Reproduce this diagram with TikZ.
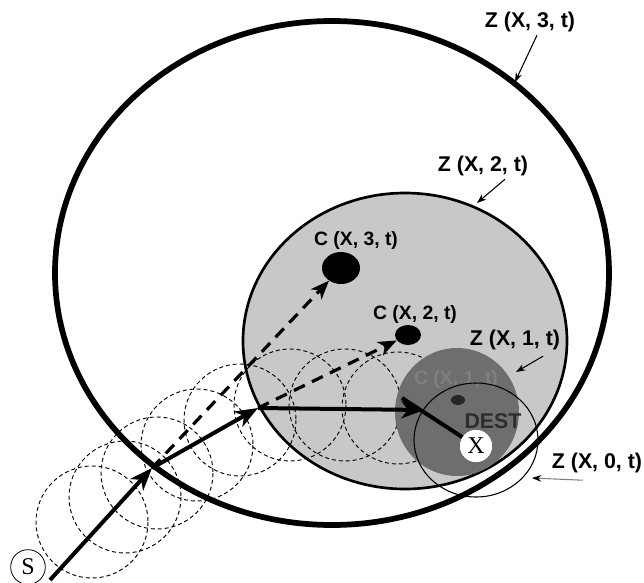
\documentclass[tikz,border=0pt]{standalone}
\usepackage{fontspec}
\setmainfont{Liberation Sans}
\newfontfamily\serifx{Liberation Serif}
\usetikzlibrary{arrows.meta,calc,shapes.geometric}
\definecolor{zgrey}{RGB}{200,200,200}
\definecolor{zdark}{RGB}{110,110,110}
\definecolor{faint}{RGB}{128,128,128}
\definecolor{desttxt}{RGB}{45,45,45}
\begin{document}
\begin{tikzpicture}[x=0.75pt,y=-0.75pt,
  lbl/.style={font=\fontsize{16}{19}\selectfont\bfseries, inner sep=0pt},
  clbl/.style={font=\fontsize{14.5}{17}\selectfont\bfseries, inner sep=0pt},
  pointer/.style={line width=0.8pt, -{Stealth[length=7pt,width=5pt]}},
  solidarrow/.style={line width=3pt, -{Stealth[length=17pt,width=13pt,inset=5pt]}},
  dasharrow/.style={line width=2.4pt, dash pattern=on 9pt off 6pt, -{Stealth[length=14pt,width=11pt,inset=4pt]}},
  trail/.style={dash pattern=on 3pt off 2.2pt, line width=0.7pt},
  dot/.style={ellipse, fill=black, inner sep=0pt},
]
\useasboundingbox (0,0) rectangle (644,583);
\fill[white] (0,0) rectangle (644,583);

% Z(X,2,t) grey zone
\draw[fill=zgrey, line width=2pt] (405,341) ellipse [x radius=162, y radius=148];

% trail of dashed circles
\foreach \cx/\cy in {92/522, 125/497, 157/473, 197/445, 240/420, 290/405, 345/405, 398/408}
  \draw[trail] (\cx,\cy) circle [radius=56];

% Z(X,1,t) dark zone
\fill[zdark] (457,412) ellipse [x radius=62, y radius=64];
\node[clbl, text=faint] (c1lbl) at (456,379) {C (X, 1, t)};
\node[dot, minimum width=10.5pt, minimum height=7.5pt, fill=black!85] (c1) at (458,400) {};
\node[lbl, text=desttxt] (dest) at (493,421) {DEST};

% Z(X,0,t) thin circle
\draw[line width=0.8pt] (476,440) ellipse [x radius=62, y radius=57];

% Z(X,3,t) big zone
\draw[line width=4.3pt] (332,273) ellipse [x radius=277, y radius=252];

% nodes S and X
\node[circle, draw, line width=0.6pt, fill=white, minimum size=26pt, inner sep=0pt] (S) at (28,567) {\serifx\fontsize{18}{18}\selectfont S};
\coordinate (s0) at (50,580);
\coordinate (p1) at (152,468);
\coordinate (p2) at (258,408);
\coordinate (p3) at (424,410);
\coordinate (q) at (402,398);

% destination dots
\node[dot, minimum width=28.5pt, minimum height=24pt] (c3) at (341,268) {};
\node[dot, minimum width=19.5pt, minimum height=15pt] (c2) at (408,335) {};

% solid path
\draw[solidarrow] (s0) -- (p1);
\draw[solidarrow] (p1) -- (p2);
\draw[solidarrow] (p2) -- (p3);
\node[circle, fill=white, minimum size=24pt, inner sep=0pt] (X) at (476,446) {};
\draw[line width=3pt] (q) -- (X);
\node[circle, fill=white, minimum size=24pt, inner sep=0pt] (Xtxt) at (X) {\serifx\fontsize{18}{18}\selectfont X};

% dashed arrows
\draw[dasharrow] (p1) -- (c3);
\draw[dasharrow] (p2) -- (c2);

% labels
\node[clbl] (c3lbl) at (356,240) {C (X, 3, t)};
\node[clbl] (c2lbl) at (415,314) {C (X, 2, t)};

\node[lbl] (z3) at (530,22) {Z (X, 3, t)};
\coordinate (z3t) at (515,82);
\draw[pointer] ($(z3.south)+(7,3)$) -- (z3t);

\node[lbl] (z2) at (483,166) {Z (X, 2, t)};
\coordinate (z2t) at (477,203);
\draw[pointer] ($(z2.south)+(22,3)$) -- (z2t);

\node[lbl] (z1) at (515,340) {Z (X, 1, t)};
\coordinate (z1t) at (516,372);
\draw[pointer] ($(z1.south)+(28,6)$) -- (z1t);

\node[lbl] (z0) at (597,463) {Z (X, 0, t)};
\coordinate (z0t) at (532,478);
\draw[line width=0.8pt, draw=gray, -{Stealth[length=7pt,width=5pt,color=black]}] ($(z0.south)+(-14,7)$) -- (z0t);
\end{tikzpicture}
\end{document}
